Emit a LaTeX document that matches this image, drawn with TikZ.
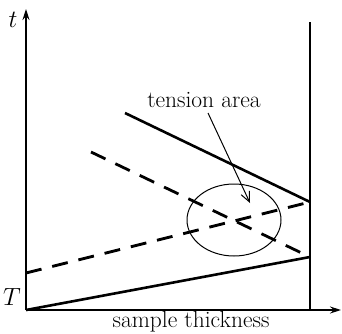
\documentclass[tikz,border=0pt]{standalone}
\usepackage{tikz}
\usetikzlibrary{arrows.meta, shapes.geometric}

\begin{document}
\begin{tikzpicture}[x=1pt, y=1pt,
    axis/.style={line width=1.3pt, -{Stealth[length=11pt,width=7pt]}},
    solidline/.style={line width=2.6pt},
    dashline/.style={line width=2.8pt, dash pattern=on 16pt off 11pt},
    label/.style={font=\fontsize{23.5}{28}\selectfont, inner sep=0pt}]
    \useasboundingbox (0,0) rectangle (342,333);

    % Points
    \coordinate (o) at (26,23);
    \coordinate (ytop) at (26,324);
    \coordinate (xend) at (341,23);
    \coordinate (rb) at (310,23);
    \coordinate (rt) at (310,311);
    \coordinate (rlow) at (310,76);
    \coordinate (rhigh) at (310,131);
    \coordinate (dstart) at (26,60);
    \coordinate (sstart) at (125,220);
    \coordinate (ustart) at (91,181);

    % Axes
    \draw[axis] (o) -- (ytop);
    \draw[axis] (o) -- (xend);
    \draw[line width=1.2pt] (rb) -- (rt);

    % Solid lines
    \draw[solidline] (o) -- (rlow);
    \draw[solidline] (sstart) -- (rhigh);

    % Dashed lines
    \draw[dashline] (dstart) -- (rhigh);
    \draw[dashline] (ustart) -- (rlow);

    % Tension area
    \node[draw, ellipse, line width=1pt, minimum width=94pt, minimum height=72pt, inner sep=0pt] (area) at (234,113) {};
    \node[label] (tlabel) at (204,233) {tension area};
    \coordinate (astart) at (208,220);
    \coordinate (atip) at (250,130);
    \draw[line width=1pt, -{Straight Barb[length=10pt,width=9pt]}] (astart) -- (atip);

    % Labels
    \node[label] (t) at (13,313) {$t$};
    \node[label] (T) at (12,36) {$T$};
    \node[label, anchor=base] (xlabel) at (191,5.5) {sample thickness};
\end{tikzpicture}
\end{document}
